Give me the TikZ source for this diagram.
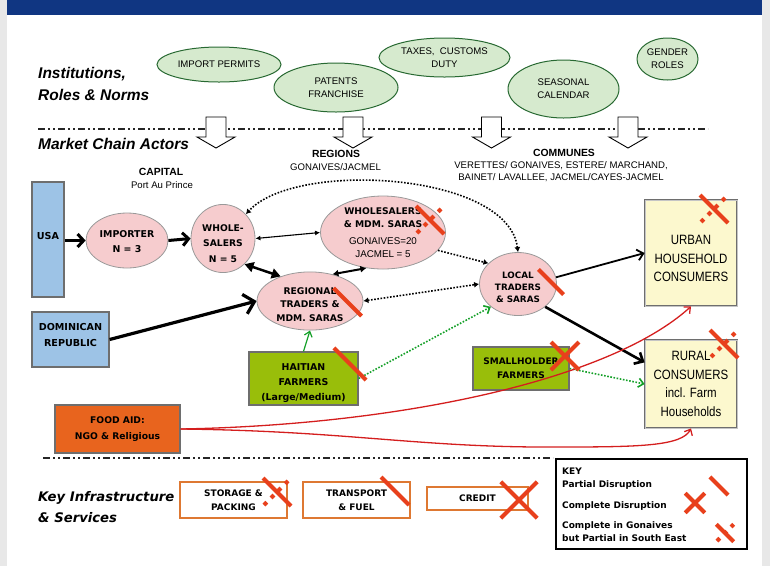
\documentclass[tikz,border=0pt]{standalone}
\usepackage{fontspec}
\setmainfont{Liberation Sans}
\newfontfamily\vfont{DejaVu Sans}
\newfontfamily\narrowf[FakeStretch=0.85]{Liberation Sans}
\newfontfamily\headf{Liberation Sans}
\newfontfamily\smallf{Liberation Sans}
\usetikzlibrary{shapes.geometric,arrows.meta}
\definecolor{sidegray}{RGB}{232,232,232}
\definecolor{banner}{RGB}{16,54,130}
\definecolor{ellfill}{RGB}{214,234,206}
\definecolor{ellline}{RGB}{40,105,50}
\definecolor{pinkfill}{RGB}{246,204,206}
\definecolor{bluefill}{RGB}{157,195,230}
\definecolor{yellowfill}{RGB}{252,248,206}
\definecolor{olivefill}{RGB}{153,190,10}
\definecolor{orangefill}{RGB}{232,100,30}
\definecolor{orangeline}{RGB}{222,120,50}
\definecolor{markred}{RGB}{232,64,28}
\definecolor{greenarrow}{RGB}{20,160,40}
\definecolor{curvered}{RGB}{212,30,30}
\definecolor{boxline}{RGB}{110,110,110}
\begin{document}
\begin{tikzpicture}[x=1pt,y=-1pt,
  greenell/.style={ellipse, draw=ellline, line width=1pt, fill=ellfill, inner sep=0pt, align=center,
    font=\smallf\fontsize{9.6}{13}\selectfont},
  pinkell/.style={ellipse, draw=boxline!70, line width=0.8pt, fill=pinkfill, inner sep=0pt, align=center,
    font=\vfont\bfseries\fontsize{9.4}{15}\selectfont},
  bluebox/.style={rectangle, draw=boxline, line width=1.2pt, fill=bluefill, inner sep=0pt, align=center,
    font=\vfont\bfseries\fontsize{9.6}{16}\selectfont},
  yellowbox/.style={rectangle, draw=boxline, line width=0.8pt, double=boxline!40, double distance=1pt,
    fill=yellowfill, inner sep=0pt, align=center, font=\narrowf\fontsize{13.5}{18.5}\selectfont},
  olivebox/.style={rectangle, draw=boxline, line width=1.2pt, fill=olivefill, inner sep=0pt, align=center,
    font=\vfont\bfseries\fontsize{9.4}{15}\selectfont},
  infrabox/.style={rectangle, draw=orangeline, line width=1.5pt, fill=white, inner sep=0pt, align=center,
    font=\vfont\bfseries\fontsize{9}{14}\selectfont},
  headtxt/.style={inner sep=0pt, anchor=west, align=left, font=\headf\bfseries\itshape\fontsize{15.5}{22}\selectfont},
  headtxtb/.style={inner sep=0pt, anchor=west, align=left, font=\vfont\bfseries\itshape\fontsize{13.2}{21}\selectfont},
  captxt/.style={inner sep=0pt, font=\smallf\bfseries\fontsize{10.4}{12}\selectfont},
  smalltxt/.style={inner sep=0pt, align=center, font=\smallf\fontsize{9.6}{12.5}\selectfont},
  keytxt/.style={inner sep=0pt, anchor=west, font=\vfont\bfseries\fontsize{9}{10}\selectfont},
  chainline/.style={line width=1.6pt, draw=black!85, dash pattern=on 7pt off 3pt on 2pt off 3pt on 2pt off 3pt},
  hollowarrow/.style={draw=black, line width=0.9pt, fill=white, line join=miter},
  thickarrow/.style={line width=3pt, -{Straight Barb[length=6pt,width=13pt]}},
  dotline/.style={line width=1.6pt, dash pattern=on 1.6pt off 1.6pt},
  redmark/.style={draw=markred, line width=4pt},
  partialmark/.pic={\draw[redmark] (-14,-14) -- (14,14);},
  completemark/.pic={\draw[redmark] (-14,-14) -- (14,14) (14,-14) -- (-14,14);},
  mixedmark/.pic={\draw[redmark] (-14,-14) -- (14,14);
     \draw[redmark, dash pattern=on 4pt off 6pt] (-13,13) -- (14,-14);}
]
\useasboundingbox (0,0) rectangle (770,566);
\fill[sidegray] (0,0) rectangle (7,566);
\fill[sidegray] (762,0) rectangle (770,566);
\fill[banner] (7,0) rectangle (762,15);

% headings
\node[headtxt] (hinst) at (38,84) {Institutions,\\Roles \& Norms};
\node[headtxt] (hmca) at (38,144) {Market Chain Actors};
\node[headtxtb] (hkis) at (38,507.5) {Key Infrastructure\\\& Services};

% institution ellipses
\node[greenell, minimum width=124, minimum height=35] (permits) at (219,64.5) {IMPORT PERMITS};
\node[greenell, minimum width=124, minimum height=49] (patents) at (336,87.5) {PATENTS\\FRANCHISE};
\node[greenell, minimum width=131, minimum height=39] (taxes) at (444.5,57.5) {TAXES,\ \ CUSTOMS\\DUTY};
\node[greenell, minimum width=111, minimum height=58] (seasonal) at (563.5,89) {SEASONAL\\CALENDAR};
\node[greenell, minimum width=61, minimum height=42] (gender) at (667.5,59) {GENDER\\ROLES};

% separator lines and hollow arrows
\draw[chainline] (38,129) -- (708,129);
\foreach \c in {216,353,491.5,628}{
  \draw[hollowarrow] ({\c-10},117) -- ({\c+10},117) -- ({\c+10},137) -- ({\c+19},137) -- (\c,148)
     -- ({\c-19},137) -- ({\c-10},137) -- cycle;
}
\draw[chainline] (43,458) -- (553,458);

% section texts
\node[captxt] (capital) at (161,172) {CAPITAL};
\node[smalltxt] (pap) at (162,185) {Port Au Prince};
\node[captxt] (regions) at (336,154) {REGIONS};
\node[smalltxt] (regnames) at (335.5,167) {GONAIVES/JACMEL};
\node[captxt] (communes) at (564,153) {COMMUNES};
\node[smalltxt] (comnames) at (561,171.5) {VERETTES/ GONAIVES, ESTERE/ MARCHAND,\\BAINET/ LAVALLEE, JACMEL/CAYES-JACMEL};

% actors
\node[bluebox, minimum width=32, minimum height=115] (usa) at (48,239.5) {\raisebox{7pt}{USA}};
\node[bluebox, minimum width=77, minimum height=55] (dom) at (70.5,339.5) {DOMINICAN\\REPUBLIC\rule[-9pt]{0pt}{9pt}};
\node[pinkell, minimum width=82, minimum height=55] (importer) at (127,240.5) {\rule{0pt}{10pt}IMPORTER\\N = 3};
\node[pinkell, minimum width=64, minimum height=63, font=\vfont\bfseries\fontsize{9.2}{15.5}\selectfont] (wsc) at (223,238.5) {\rule{0pt}{17pt}WHOLE-\\SALERS\\N = 5};
\node[pinkell, minimum width=125, minimum height=73, font=\vfont\bfseries\fontsize{9.2}{12.5}\selectfont] (wsr) at (383,232.5)
  {WHOLESALERS\\\& MDM. SARAS\\[5pt]{\smallf\mdseries\fontsize{9.8}{12}\selectfont GONAIVES=20}\\{\smallf\mdseries\fontsize{9.8}{12}\selectfont JACMEL = 5}};
\node[pinkell, minimum width=106, minimum height=52, font=\vfont\bfseries\fontsize{9.2}{13.5}\selectfont] (reg) at (310,301) {\rule{0pt}{14pt}REGIONAL\\TRADERS \&\\MDM. SARAS};
\node[pinkell, minimum width=77, minimum height=63, font=\vfont\bfseries\fontsize{8.8}{12}\selectfont] (loc) at (518,284) {\rule{0pt}{13pt}LOCAL\\TRADERS\\\& SARAS};
\node[yellowbox, minimum width=92, minimum height=106] (urban) at (691,253) {\rule{0pt}{21pt}URBAN\\HOUSEHOLD\\CONSUMERS};
\node[yellowbox, minimum width=92, minimum height=88] (rural) at (691,384) {RURAL\\CONSUMERS\\incl. Farm\\Households};
\node[olivebox, minimum width=109, minimum height=53] (haitian) at (303.5,378.5) {\rule{0pt}{17pt}HAITIAN\\FARMERS\\(Large/Medium)};
\node[olivebox, minimum width=96, minimum height=43, font=\vfont\bfseries\fontsize{9}{14}\selectfont] (small) at (521,368.5) {SMALLHOLDER\\FARMERS};
\node[rectangle, draw=boxline, line width=1.2pt, fill=orangefill, inner sep=0pt, align=center,
  font=\vfont\bfseries\fontsize{9.2}{16.5}\selectfont, minimum width=125, minimum height=48] (food) at (117.5,429) {FOOD AID:\\NGO \& Religious};

% infrastructure
\node[infrabox, minimum width=107, minimum height=36] (storage) at (233.5,500) {STORAGE \&\\PACKING};
\node[infrabox, minimum width=107, minimum height=36] (transport) at (356.5,500) {TRANSPORT\\\& FUEL};
\node[infrabox, minimum width=101, minimum height=23] (credit) at (477.5,498.5) {CREDIT};

% key
\node[rectangle, draw=black, line width=2pt, minimum width=191, minimum height=90, inner sep=0pt] (keybox) at (651.5,504) {};
\node[keytxt] (k0) at (562,471) {KEY};
\node[keytxt] (k1) at (562,485) {Partial Disruption};
\node[keytxt] (k2) at (562,506) {Complete Disruption};
\node[keytxt, align=left, font=\vfont\bfseries\fontsize{9}{13.5}\selectfont] (k3) at (562,531.5) {Complete in Gonaives\\but Partial in South East};

% connectors
\draw[thickarrow] (usa.east |- importer.west) -- (importer.west);
\draw[thickarrow] (importer.east) -- (wsc.west);
\draw[line width=3.2pt, -{Straight Barb[length=10pt,width=20pt]}] (dom.east) -- (reg.west);
\draw[line width=1.1pt, {Latex[length=5pt,width=5pt]}-{Latex[length=5pt,width=5pt]}] (wsc.east) -- (wsr.west);
\draw[line width=2.5pt, {Triangle[length=9pt,width=10pt]}-{Triangle[length=9pt,width=10pt]}] (wsc.-50) -- (reg.140);
\draw[line width=2pt, {Latex[length=6pt,width=7pt]}-{Latex[length=6pt,width=7pt]}] (wsr.-115) -- (reg.50);
\draw[dotline, {Latex[length=5pt,width=6pt]}-{Latex[length=5pt,width=6pt]}] (loc.north) .. controls (508,172) and (295,160) .. (wsc.north east);
\draw[dotline, -{Latex[length=5pt,width=6pt]}] (wsr.-18) -- (loc.145);
\draw[dotline, {Latex[length=5pt,width=6pt]}-{Latex[length=5pt,width=6pt]}] (reg.east) -- (loc.west);
\draw[dotline, draw=greenarrow, -{Straight Barb[length=5pt,width=9pt]}] (haitian.east) -- (loc.-140);
\draw[line width=1.2pt, draw=greenarrow, -{Straight Barb[length=5pt,width=8pt]}] (haitian.north) -- (reg.south);
\draw[dotline, draw=greenarrow, -{Straight Barb[length=5pt,width=9pt]}] (small.east) -- (rural.west);
\draw[line width=1.8pt, -{Straight Barb[length=6pt,width=11pt]}] (loc.10) -- (urban.west);
\draw[line width=2.6pt, -{Straight Barb[length=7pt,width=13pt]}] (loc.-40) -- (rural.155);
\draw[line width=1.3pt, draw=curvered, -{Straight Barb[length=5pt,width=9pt]}] (food.east) .. controls (400,425) and (610,380) .. (urban.south);
\draw[line width=1.3pt, draw=curvered, -{Straight Barb[length=5pt,width=9pt]}] (food.east) .. controls (350,431) and (420,448) .. (560,447) .. controls (640,447) and (682,446) .. (rural.south);

% disruption marks
\pic at (430,220) {mixedmark};
\pic at (347.5,302) {partialmark};
\pic[scale=1.15] at (350,364) {partialmark};
\pic[scale=0.9] at (551,282) {partialmark};
\pic at (565,356) {completemark};
\pic at (714,209) {mixedmark};
\pic at (724,344) {mixedmark};
\pic at (277,492) {mixedmark};
\pic at (395,491) {partialmark};
\pic[scale=1.3] at (519,500) {completemark};
\pic[scale=0.65] at (719,486) {partialmark};
\pic[scale=0.7] at (695,503) {completemark};
\pic[scale=0.62] at (725,533) {mixedmark};
\end{tikzpicture}
\end{document}
